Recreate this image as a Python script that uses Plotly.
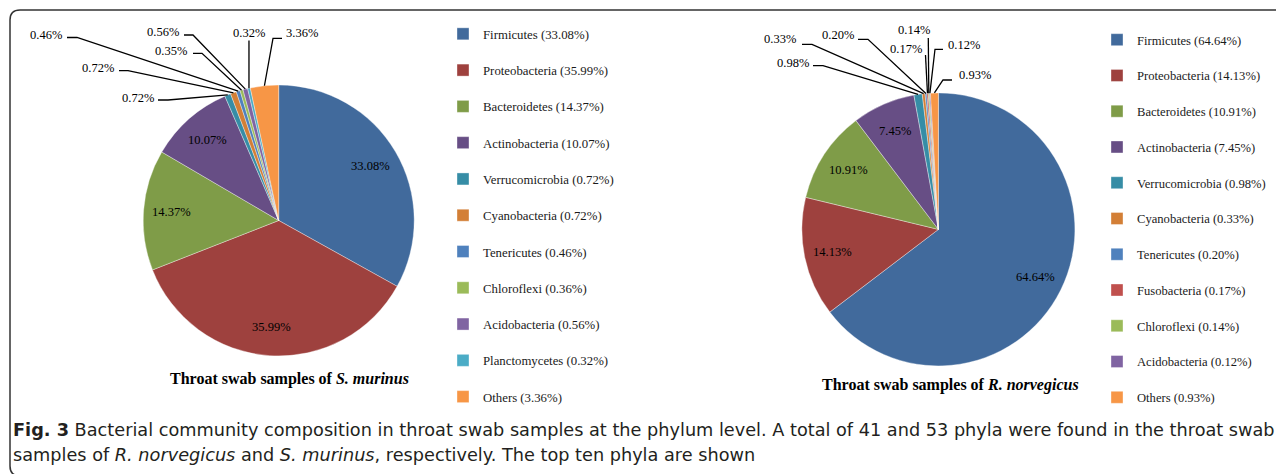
import math
import plotly.graph_objects as go

W, H = 1284, 474
OFF = 8  # page body margin: layout coordinates below are given in window pixels

# ---------------- data ----------------
left_names = ["Firmicutes", "Proteobacteria", "Bacteroidetes", "Actinobacteria",
              "Verrucomicrobia", "Cyanobacteria", "Tenericutes", "Chloroflexi",
              "Acidobacteria", "Planctomycetes", "Others"]
left_values = [33.08, 35.99, 14.37, 10.07, 0.72, 0.72, 0.46, 0.36, 0.56, 0.32, 3.36]
left_slice_labels = ["33.08%", "35.99%", "14.37%", "10.07%", "0.72%", "0.72%",
                     "0.46%", "0.35%", "0.56%", "0.32%", "3.36%"]

right_names = ["Firmicutes", "Proteobacteria", "Bacteroidetes", "Actinobacteria",
               "Verrucomicrobia", "Cyanobacteria", "Tenericutes", "Fusobacteria",
               "Chloroflexi", "Acidobacteria", "Others"]
right_values = [64.64, 14.13, 10.91, 7.45, 0.98, 0.33, 0.20, 0.17, 0.14, 0.12, 0.93]
right_slice_labels = ["64.64%", "14.13%", "10.91%", "7.45%", "0.98%", "0.33%",
                      "0.20%", "0.17%", "0.14%", "0.12%", "0.93%"]

left_title = "<b>Throat swab samples of <i>S. murinus</i></b>"
right_title = "<b>Throat swab samples of <i>R. norvegicus</i></b>"
caption_lines = [
    "<b>Fig. 3</b> Bacterial community composition in throat swab samples at the phylum level. "
    "A total of 41 and 53 phyla were found in the throat swab",
    "samples of <i>R. norvegicus</i> and <i>S. murinus</i>, respectively. The top ten phyla are shown",
]

# ---------------- styles ----------------
phylum_colors = {
    "Firmicutes": "#416A9C", "Proteobacteria": "#9E413E", "Bacteroidetes": "#7F9C48",
    "Actinobacteria": "#674E85", "Verrucomicrobia": "#368DA6", "Cyanobacteria": "#D37F36",
    "Tenericutes": "#4F81BD", "Fusobacteria": "#C0504D", "Chloroflexi": "#9BBB59",
    "Acidobacteria": "#8064A2", "Planctomycetes": "#4BACC6", "Others": "#F79646",
}
SERIF = "Liberation Serif, Times New Roman, serif"
CAPTION_FONT = "DejaVu Sans, sans-serif"
INSIDE_MIN = 5          # slices at least this big get a label inside the pie
INSIDE_RADIUS = 0.79    # radial position of inside labels (fraction of radius)

# pie geometry in window pixels (center x, center y, radius)
LEFT_PIE = (278.7, 220.5, 135.5)
RIGHT_PIE = (938.4, 229.4, 136.5)

# callout layout: slice index -> (label center px, leader points px before reaching slice)
left_callouts = {
    4: ((137.5, 97.7), [(158, 100), (168, 100)]),
    5: ((98.0, 67.7), [(119, 70.7), (128, 70.7)]),
    6: ((45.5, 35.0), [(67, 37.5), (77, 37.5)]),
    7: ((170.5, 50.7), [(193, 53.3), (202, 53.3)]),
    8: ((163.0, 32.3), [(184, 35), (193, 35)]),
    9: ((249.0, 33.3), [(249, 40.5)]),
    10: ((301.5, 33.0), [(282, 38.3), (273, 38.3)]),
}
right_callouts = {
    4: ((792.5, 63.3), [(813, 65.7), (823, 65.7)]),
    5: ((779.5, 39.0), [(802, 44.3), (812, 44.3)]),
    6: ((837.5, 35.0), [(858, 39.3), (868, 39.3)]),
    7: ((905.5, 49.3), [(925.5, 55)]),
    8: ((913.5, 30.0), [(928.3, 38)]),
    9: ((963.5, 45.0), [(943, 49.3), (935, 49.3)]),
    10: ((974.5, 75.0), [(952, 80), (943, 80)]),
}


def to_paper(x, y):
    return (x - OFF) / W, 1 - (y - OFF) / H


def domain_of(pie):
    cx, cy, r = pie
    x0, y1 = to_paper(cx - r, cy - r)
    x1, y0 = to_paper(cx + r, cy + r)
    return dict(x=[x0, x1], y=[y0, y1])


def slice_point(values, i, pie, frac=1.0):
    cx, cy, r = pie
    total = sum(values)
    mid = sum(values[:i]) + values[i] / 2
    th = 2 * math.pi * mid / total
    return cx + r * frac * math.sin(th), cy - r * frac * math.cos(th)


def make_pie(names, values, pie, legend_id):
    return go.Pie(
        labels=[f"{n} ({v:.2f}%)<br> " for n, v in zip(names, values)],
        values=values,
        textinfo="none",
        marker=dict(colors=[phylum_colors[n] for n in names],
                    line=dict(color="rgba(255,255,255,0.6)", width=0.6)),
        sort=False,
        direction="clockwise",
        rotation=0,
        domain=domain_of(pie),
        legend=legend_id,
        hoverinfo="label+value",
    )


fig = go.Figure()
fig.add_trace(make_pie(left_names, left_values, LEFT_PIE, "legend"))
fig.add_trace(make_pie(right_names, right_values, RIGHT_PIE, "legend2"))

shapes = []
annotations = []


def label_annot(x, y, text):
    tx, ty = to_paper(x, y)
    return dict(x=tx, y=ty, xref="paper", yref="paper", text=text,
                showarrow=False, xanchor="center", yanchor="middle",
                font=dict(family=SERIF, size=12.5, color="#000000"))


def add_labels(values, slice_labels, pie, callouts):
    for i, v in enumerate(values):
        if v >= INSIDE_MIN:
            x, y = slice_point(values, i, pie, INSIDE_RADIUS)
            annotations.append(label_annot(x, y, slice_labels[i]))
    for i, (txt_pos, pts) in callouts.items():
        ax, ay = slice_point(values, i, pie, 1.0)
        path_pts = list(pts) + [(ax, ay)]
        p = []
        for k, (x, y) in enumerate(path_pts):
            xp, yp = to_paper(x, y)
            p.append(("M" if k == 0 else "L") + f"{xp:.5f},{yp:.5f}")
        shapes.append(dict(type="path", path=" ".join(p), xref="paper", yref="paper",
                           line=dict(color="#000000", width=1.3)))
        annotations.append(label_annot(txt_pos[0], txt_pos[1], slice_labels[i]))


add_labels(left_values, left_slice_labels, LEFT_PIE, left_callouts)
add_labels(right_values, right_slice_labels, RIGHT_PIE, right_callouts)

# sub titles
for txt, (x, y) in [(left_title, (289, 379)), (right_title, (950, 385))]:
    xp, yp = to_paper(x, y)
    annotations.append(dict(x=xp, y=yp, xref="paper", yref="paper", text=txt, showarrow=False,
                            xanchor="center", yanchor="middle",
                            font=dict(family=SERIF, size=16, color="#000000")))

# caption
for txt, y in zip(caption_lines, [430, 455]):
    xp, yp = to_paper(11, y)
    annotations.append(dict(x=xp, y=yp, xref="paper", yref="paper", text=txt, showarrow=False,
                            xanchor="left", yanchor="middle",
                            font=dict(family=CAPTION_FONT, size=17.7, color="#231F20")))


# rounded frame
def P(x, y):
    xp, yp = to_paper(x, y)
    return f"{xp:.5f},{yp:.5f}"


bx0, by0, bx1, by1, rr = 10, 10, 1310, 476, 10
frame_path = (f"M{P(bx0, by1 - rr)} L{P(bx0, by0 + rr)} Q{P(bx0, by0)} {P(bx0 + rr, by0)} "
              f"L{P(bx1, by0)} M{P(bx0, by1 - rr)} Q{P(bx0, by1)} {P(bx0 + rr, by1)}")
shapes.append(dict(type="path", path=frame_path, xref="paper", yref="paper",
                   line=dict(color="#333333", width=1.5)))

legend_style = dict(xanchor="left", yanchor="top", valign="top", bgcolor="rgba(0,0,0,0)")
lx, ly = to_paper(443, 19)
rx, ry = to_paper(1097, 25)

fig.update_layout(
    width=W, height=H,
    margin=dict(l=0, r=0, t=0, b=0),
    paper_bgcolor="white", plot_bgcolor="white",
    showlegend=True,
    legend=dict(x=lx, y=ly, font=dict(family=SERIF, size=12.8, color="#1A1A1A"), **legend_style),
    legend2=dict(x=rx, y=ry, font=dict(family=SERIF, size=12.6, color="#1A1A1A"), **legend_style),
    shapes=shapes,
    annotations=annotations,
)

fig.write_html("out.html")
